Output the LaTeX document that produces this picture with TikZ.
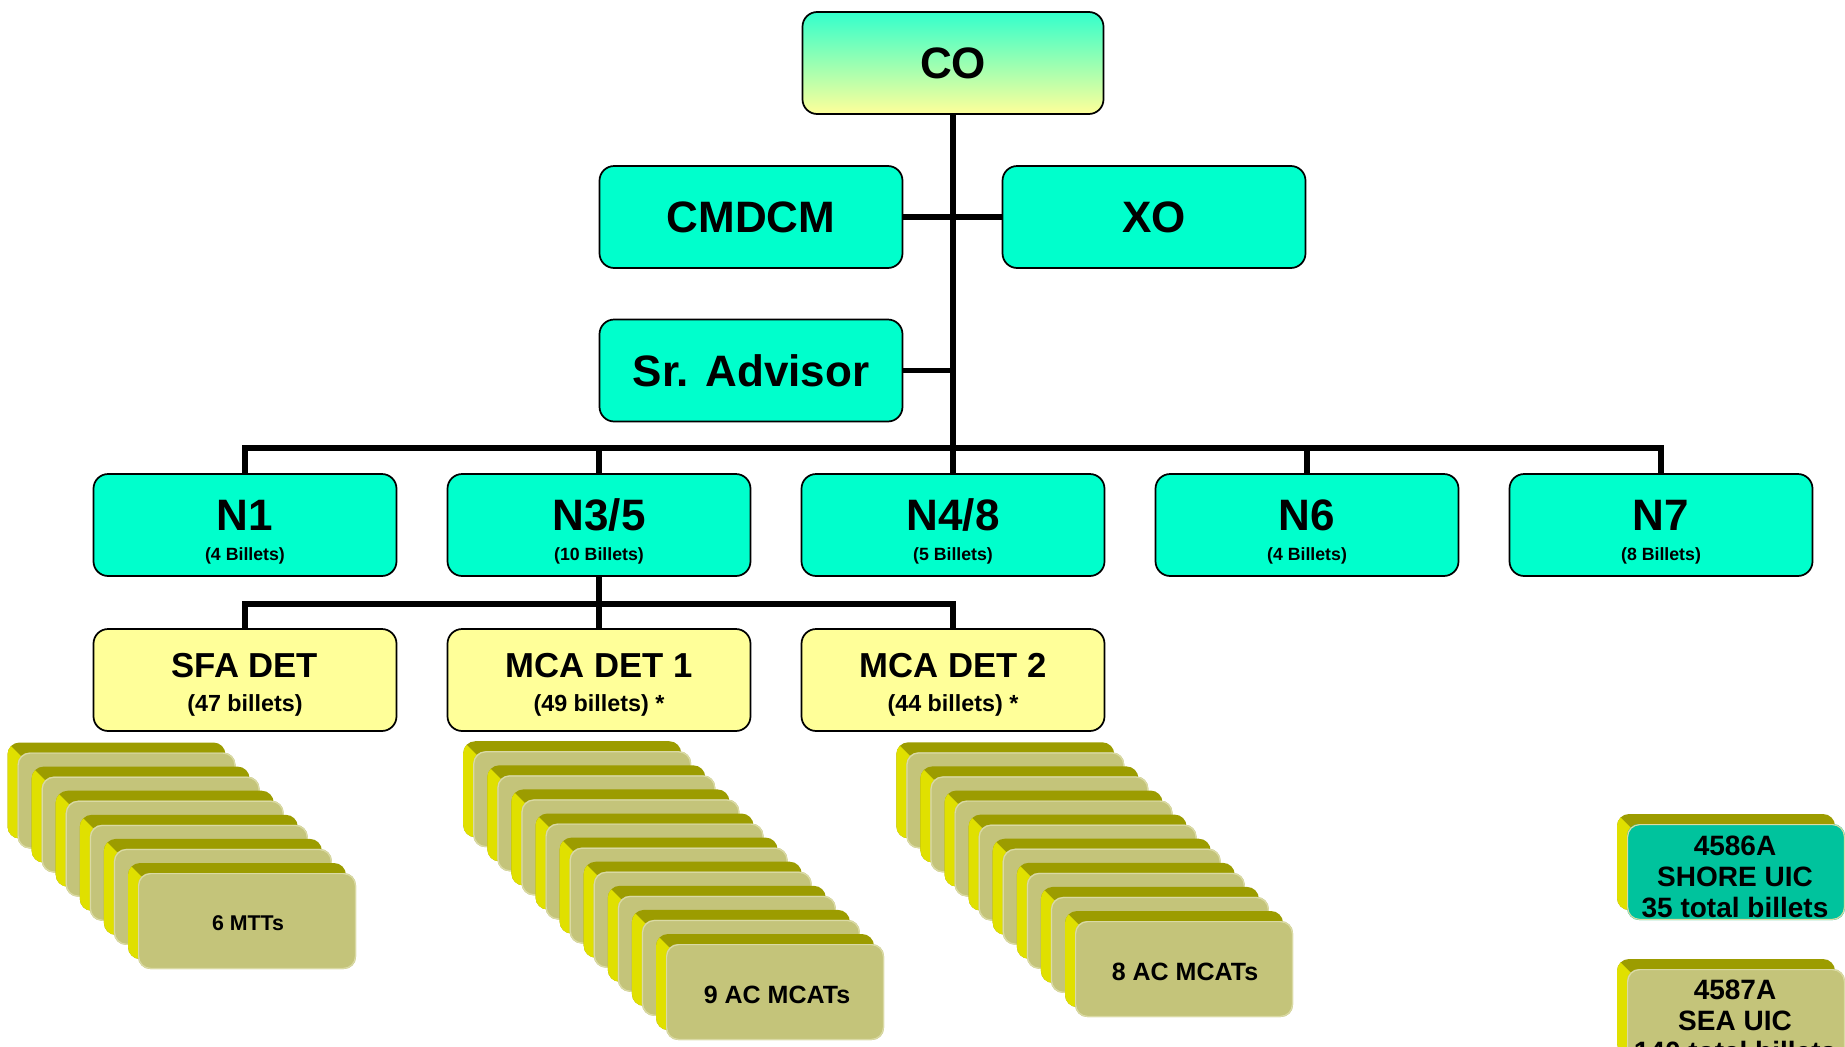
\documentclass[tikz,border=0pt]{standalone}
\usepackage{fontspec}
\setmainfont{Liberation Sans}
\usetikzlibrary{calc}
\definecolor{tealbox}{HTML}{00FFCC}
\definecolor{detyellow}{HTML}{FFFF99}
\definecolor{cotop}{HTML}{33FFCC}
\definecolor{cobottom}{HTML}{FFFF99}
\definecolor{cardbody}{HTML}{C4C47A}
\definecolor{cardolive}{HTML}{9C9C00}
\definecolor{cardyellow}{HTML}{E0E000}
\definecolor{cardlight}{HTML}{DADAA4}
\definecolor{shoreteal}{HTML}{00C39D}
\newcommand\fbig{\fontsize{33}{36}\selectfont\bfseries}
\newcommand\fsub{\fontsize{13.3}{15}\selectfont\bfseries}
\newcommand\fdet{\fontsize{26}{29}\selectfont\bfseries}
\newcommand\fdetsub{\fontsize{17.5}{20}\selectfont\bfseries}
\newcommand\fmtt{\fontsize{16}{18}\selectfont\bfseries}
\newcommand\fmcat{\fontsize{18.75}{21}\selectfont\bfseries}
\newcommand\fuic{\fontsize{21}{23}\selectfont\bfseries}
% one bevelled card: #1 x, #2 y of body top-left (px), #3 body colour
\newcommand\stackcard[3]{%
  \fill[cardolive, rounded corners=9pt] (#1-10,#2-10) rectangle ++(218,96);
  \begin{scope}
    \clip (#1-40,#2-40) -- (#1+4,#2+4) -- (#1+4,#2+140) -- (#1-40,#2+140) -- cycle;
    \fill[cardyellow, rounded corners=9pt] (#1-10,#2-10) rectangle ++(218,96);
  \end{scope}
  \fill[#3, rounded corners=9pt] (#1,#2) rectangle ++(218,96);
  \draw[cardlight, line width=0.9pt, rounded corners=9pt] (#1+0.6,#2+0.6) rectangle ++(216.8,94.8);
}
\begin{document}
\begin{tikzpicture}[x=0.75pt,y=-0.75pt,
  box/.style={draw=black, line width=1.3pt, rounded corners=11pt,
    minimum width=227.25pt, minimum height=76.5pt, inner sep=0pt},
  tbox/.style={box, fill=tealbox},
  dbox/.style={box, fill=detyellow},
  conn/.style={line width=4.3pt, line join=miter},
  big/.style={font=\fbig},
  tl/.style={anchor=base, font=\fbig},
  sl/.style={anchor=base, font=\fsub},
  dt/.style={anchor=base, font=\fdet},
  ds/.style={anchor=base, font=\fdetsub},
  uic/.style={anchor=base, font=\fuic}]
\path[use as bounding box] (0,0) rectangle (1845,1046);
\clip (0,0) rectangle (1845,1046);
\fill[white] (0,0) rectangle (1845,1046);

% coordinates of the two buses
\coordinate (bus) at (953,448);
\coordinate (bus2) at (953,604);

% boxes
\node[box, top color=cotop, bottom color=cobottom, minimum width=225.75pt, big] (co) at (953,63) {CO};
\node[tbox, big] (cmdcm) at (751,217) {CMDCM};
\node[tbox, big] (xo) at (1154,217) {XO};
\node[tbox, big] (sr) at (751,370.5) {Sr. Advisor};

\node[tbox] (n1) at (245,525) {};
\node[tbox] (n35) at (599,525) {};
\node[tbox] (n48) at (953,525) {};
\node[tbox] (n6) at (1307,525) {};
\node[tbox] (n7) at (1661,525) {};

\node[dbox] (sfa) at (245,680) {};
\node[dbox] (mca1) at (599,680) {};
\node[dbox] (mca2) at (953,680) {};

% texts of row 2
\node[tl] (n1t) at (245,530) {N1};
\node[sl] (n1s) at (245,560) {(4 Billets)};
\node[tl] (n35t) at (599,530) {N3/5};
\node[sl] (n35s) at (599,560) {(10 Billets)};
\node[tl] (n48t) at (953,530) {N4/8};
\node[sl] (n48s) at (953,560) {(5 Billets)};
\node[tl] (n6t) at (1307,530) {N6};
\node[sl] (n6s) at (1307,560) {(4 Billets)};
\node[tl] (n7t) at (1661,530) {N7};
\node[sl] (n7s) at (1661,560) {(8 Billets)};

% texts of row 3
\node[dt] (sfat) at (245,677) {SFA DET};
\node[ds] (sfas) at (245,711.5) {(47 billets)};
\node[dt] (mca1t) at (599,677) {MCA DET 1};
\node[ds] (mca1s) at (599,711.5) {(49 billets) *};
\node[dt] (mca2t) at (953,677) {MCA DET 2};
\node[ds] (mca2s) at (953,711.5) {(44 billets) *};

% connectors
\draw[conn] (co.south) -- (n48.north);
\draw[conn] (cmdcm.east) -- (xo.west);
\draw[conn] (sr.east) -- (sr.east -| co.south);
\draw[conn] (n1.north) -- (n1.north |- bus) -- (n7.north |- bus) -- (n7.north);
\draw[conn] (n35.north) -- (n35.north |- bus);
\draw[conn] (n6.north) -- (n6.north |- bus);
\draw[conn] (sfa.north) -- (sfa.north |- bus2) -- (mca2.north |- bus2) -- (mca2.north);
\draw[conn] (n35.south) -- (mca1.north);

% stacks of teams
\foreach \i in {0,...,5} {
  \pgfmathsetmacro\cx{138-(5-\i)*24.1}
  \pgfmathsetmacro\cy{873-(5-\i)*24.1}
  \stackcard{\cx}{\cy}{cardbody}
}
\node[font=\fmtt] (mtts) at (248,923) {6 MTTs};

\foreach \i in {0,...,8} {
  \pgfmathsetmacro\cx{666-(8-\i)*24.1}
  \pgfmathsetmacro\cy{944-(8-\i)*24.1}
  \stackcard{\cx}{\cy}{cardbody}
}
\node[font=\fmcat] (mcat9) at (777,995) {9 AC MCATs};

\foreach \i in {0,...,7} {
  \pgfmathsetmacro\cx{1075-(7-\i)*24.1}
  \pgfmathsetmacro\cy{921-(7-\i)*24.1}
  \stackcard{\cx}{\cy}{cardbody}
}
\node[font=\fmcat] (mcat8) at (1185,972) {8 AC MCATs};

% UIC boxes
\stackcard{1627}{824}{shoreteal}
\node[uic] (sh1) at (1735,855) {4586A};
\node[uic] (sh2) at (1735,886) {SHORE UIC};
\node[uic] (sh3) at (1735,917) {35 total billets};

\stackcard{1627}{969}{cardbody}
\node[uic] (se1) at (1735,999) {4587A};
\node[uic] (se2) at (1735,1030) {SEA UIC};
\node[uic] (se3) at (1735,1061) {140 total billets};
\end{tikzpicture}
\end{document}
